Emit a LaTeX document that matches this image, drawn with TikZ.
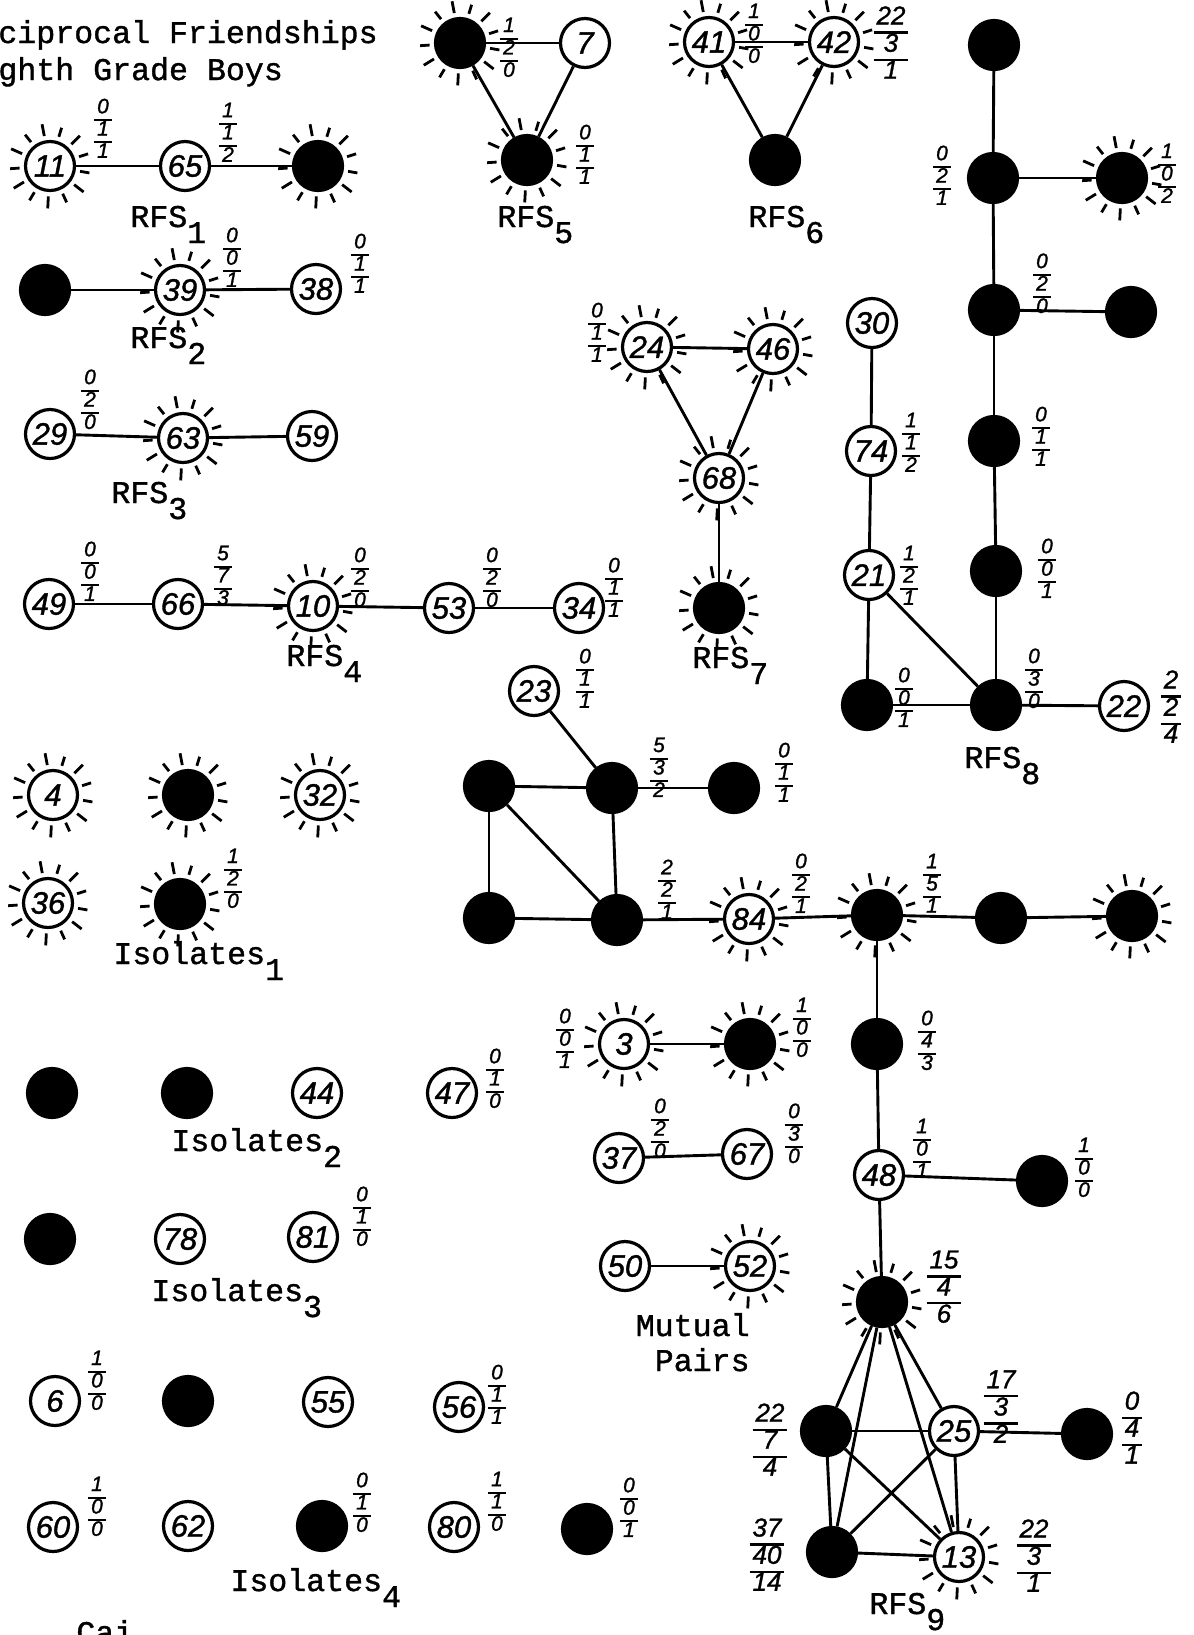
\documentclass[tikz,border=0pt]{standalone}
\usepackage{fontspec}
\newfontfamily\tw[FakeBold=1.2]{Liberation Mono}
\newfontfamily\hand[FakeBold=1.2]{Liberation Sans Italic}
\setlength\arrayrulewidth{1.1pt}
% three-level stacked score: top / middle / bottom
\newcommand\tfr[3]{{\setlength\tabcolsep{1.5pt}\renewcommand\arraystretch{0.74}\begin{tabular}{c}#1\\\hline #2\\\hline #3\end{tabular}}}
% lowered group index after RFS / Isolates
\newcommand\lowsub[1]{\raisebox{-8pt}{#1}}
% short radial strokes round each named node
\newcommand\sunrays[1]{\foreach \nn in {#1}{\foreach \a [count=\k] in {0,27.69,...,340}{\pgfmathsetmacro\len{mod(\k,2)==0 ? 12 : 9.5}\draw[ray] (\nn) ++(\a+10:30.5) -- ++(\a+10:\len);}}}

\begin{document}
\begin{tikzpicture}[x=0.5pt,y=-0.5pt,
  wn/.style={circle,draw,line width=1.6pt,minimum size=24.5pt,inner sep=0pt,
             font=\hand\fontsize{15.5}{15.5}\selectfont},
  bn/.style={wn,fill=black},
  edge/.style={line width=1.45pt},
  ray/.style={line width=1.4pt},
  fr/.style={inner sep=0pt,font=\hand\fontsize{10.5}{12.5}\selectfont},
  frL/.style={inner sep=0pt,font=\hand\fontsize{13}{15.5}\selectfont},
  tt/.style={inner sep=0pt,anchor=base west,font=\tw\fontsize{15.8}{18}\selectfont}]
\useasboundingbox (0,0) rectangle (1194,1635);

% ---------------- title
\node[tt] (title1) at (-2,43) {ciprocal Friendships};
\node[tt] (title2) at (-2,80) {ghth Grade Boys};

% ---------------- RFS 1
\node[wn] (n11) at (50,166) {11};
\node[wn] (n65) at (185,166) {65};
\node[bn] (r1c) at (318,166) {};
\node[fr] (f11) at (103,131) {\tfr{0}{1}{1}};
\node[fr] (f65) at (228,135) {\tfr{1}{1}{2}};
\node[tt] (rfs1) at (130,227) {RFS\lowsub{1}};

% ---------------- RFS 2
\node[bn] (r2a) at (45,290) {};
\node[wn] (n39) at (180,290) {39};
\node[wn] (n38) at (316,289) {38};
\node[fr] (f39) at (232,260) {\tfr{0}{0}{1}};
\node[fr] (f38) at (360,266) {\tfr{0}{1}{1}};
\node[tt] (rfs2) at (130,348) {RFS\lowsub{2}};

% ---------------- RFS 3
\node[wn] (n29) at (50,434) {29};
\node[wn] (n63) at (183,438) {63};
\node[wn] (n59) at (312,436) {59};
\node[fr] (f29) at (90,402) {\tfr{0}{2}{0}};
\node[tt] (rfs3) at (111,503) {RFS\lowsub{3}};

% ---------------- RFS 4
\node[wn] (n49) at (49,604) {49};
\node[wn] (n66) at (178,604) {66};
\node[wn] (n10) at (313,606) {10};
\node[wn] (n53) at (449,608) {53};
\node[wn] (n34) at (579,608) {34};
\node[fr] (f49) at (90,574) {\tfr{0}{0}{1}};
\node[fr] (f66) at (223,578) {\tfr{5}{7}{3}};
\node[fr] (f10) at (360,580) {\tfr{0}{2}{0}};
\node[fr] (f53) at (492,580) {\tfr{0}{2}{0}};
\node[fr] (f34) at (614,590) {\tfr{0}{1}{1}};
\node[tt] (rfs4) at (286,666) {RFS\lowsub{4}};

% ---------------- RFS 5
\node[bn] (r5a) at (460,43) {};
\node[wn] (n7) at (585,43) {7};
\node[bn] (r5b) at (527,160) {};
\node[fr] (f5a) at (509,50) {\tfr{1}{2}{0}};
\node[fr] (f5b) at (585,157) {\tfr{0}{1}{1}};
\node[tt] (rfs5) at (497,227) {RFS\lowsub{5}};

% ---------------- RFS 6
\node[wn] (n41) at (709,42) {41};
\node[wn] (n42) at (834,42) {42};
\node[bn] (r6a) at (775,160) {};
\node[fr] (f41) at (754,36) {\tfr{1}{0}{0}};
\node[frL] (f42) at (891,46) {\tfr{22}{3}{1}};
\node[tt] (rfs6) at (748,227) {RFS\lowsub{6}};

% ---------------- RFS 7
\node[wn] (n24) at (647,347) {24};
\node[wn] (n46) at (773,349) {46};
\node[wn] (n68) at (719,478) {68};
\node[bn] (r7a) at (719,608) {};
\node[fr] (f24) at (597,335) {\tfr{0}{1}{1}};
\node[tt] (rfs7) at (692,668) {RFS\lowsub{7}};

% ---------------- RFS 8
\node[bn] (r8a) at (994,45) {};
\node[bn] (r8b) at (993,178) {};
\node[bn] (r8c) at (1122,178) {};
\node[bn] (r8d) at (994,310) {};
\node[bn] (r8e) at (1131,312) {};
\node[wn] (n30) at (872,323) {30};
\node[wn] (n74) at (871,451) {74};
\node[bn] (r8f) at (994,441) {};
\node[wn] (n21) at (869,575) {21};
\node[bn] (r8g) at (996,571) {};
\node[bn] (r8h) at (867,705) {};
\node[bn] (r8i) at (996,705) {};
\node[wn] (n22) at (1124,706) {22};
\node[fr] (f8b) at (942,178) {\tfr{0}{2}{1}};
\node[fr] (f8c) at (1167,176) {\tfr{1}{0}{2}};
\node[fr] (f8d) at (1042,286) {\tfr{0}{2}{0}};
\node[fr] (f74) at (911,445) {\tfr{1}{1}{2}};
\node[fr] (f8f) at (1041,439) {\tfr{0}{1}{1}};
\node[fr] (f21) at (909,578) {\tfr{1}{2}{1}};
\node[fr] (f8g) at (1047,571) {\tfr{0}{0}{1}};
\node[fr] (f8h) at (904,700) {\tfr{0}{0}{1}};
\node[fr] (f8i) at (1034,681) {\tfr{0}{3}{0}};
\node[frL] (f22) at (1171,710) {\tfr{2}{2}{4}};
\node[tt] (rfs8) at (964,768) {RFS\lowsub{8}};

% ---------------- RFS 9
\node[wn] (n23) at (534,691) {23};
\node[bn] (r9a) at (489,786) {};
\node[bn] (r9b) at (612,788) {};
\node[bn] (r9c) at (734,788) {};
\node[bn] (r9d) at (489,918) {};
\node[bn] (r9e) at (617,920) {};
\node[wn] (n84) at (749,919) {84};
\node[bn] (r9f) at (877,915) {};
\node[bn] (r9g) at (1001,918) {};
\node[bn] (r9h) at (1132,916) {};
\node[bn] (r9i) at (877,1044) {};
\node[wn] (n48) at (879,1175) {48};
\node[bn] (r9j) at (1042,1181) {};
\node[bn] (r9k) at (882,1302) {};
\node[bn] (r9l) at (826,1431) {};
\node[wn] (n25) at (954,1431) {25};
\node[bn] (r9m) at (1087,1434) {};
\node[bn] (r9n) at (832,1552) {};
\node[wn] (n13) at (959,1557) {13};
\node[fr] (f23) at (585,681) {\tfr{0}{1}{1}};
\node[fr] (f9b) at (659,770) {\tfr{5}{3}{2}};
\node[fr] (f9c) at (784,775) {\tfr{0}{1}{1}};
\node[fr] (f9e) at (667,892) {\tfr{2}{2}{1}};
\node[fr] (f84) at (801,886) {\tfr{0}{2}{1}};
\node[fr] (f9f) at (932,886) {\tfr{1}{5}{1}};
\node[fr] (f9i) at (927,1043) {\tfr{0}{4}{3}};
\node[fr] (f48) at (922,1151) {\tfr{1}{0}{1}};
\node[fr] (f9j) at (1084,1170) {\tfr{1}{0}{0}};
\node[frL] (f9k) at (944,1290) {\tfr{15}{4}{6}};
\node[frL] (f9l) at (770,1443) {\tfr{22}{7}{4}};
\node[frL] (f25) at (1001,1410) {\tfr{17}{3}{2}};
\node[frL] (f9m) at (1132,1431) {\tfr{0}{4}{1}};
\node[frL] (f9n) at (767,1558) {\tfr{37}{40}{14}};
\node[frL] (f13) at (1034,1559) {\tfr{22}{3}{1}};
\node[tt] (rfs9) at (869,1614) {RFS\lowsub{9}};

% ---------------- mutual pairs
\node[wn] (n3) at (624,1044) {3};
\node[bn] (p3b) at (750,1044) {};
\node[fr] (f3) at (565,1041) {\tfr{0}{0}{1}};
\node[fr] (fp3b) at (802,1030) {\tfr{1}{0}{0}};
\node[wn] (n37) at (619,1158) {37};
\node[wn] (n67) at (747,1154) {67};
\node[fr] (f37) at (660,1131) {\tfr{0}{2}{0}};
\node[fr] (f67) at (794,1136) {\tfr{0}{3}{0}};
\node[wn] (n50) at (625,1266) {50};
\node[wn] (n52) at (750,1266) {52};
\node[tt,anchor=base east] (mut1) at (750,1336) {Mutual};
\node[tt,anchor=base east] (mut2) at (750,1371) {Pairs};

% ---------------- isolates
\node[wn] (n4) at (53,795) {4};
\node[bn] (i1b) at (188,795) {};
\node[wn] (n32) at (320,795) {32};
\node[wn] (n36) at (48,903) {36};
\node[bn] (i1e) at (180,904) {};
\node[fr] (fi1e) at (233,881) {\tfr{1}{2}{0}};
\node[tt] (iso1) at (113,964) {Isolates\lowsub{1}};

\node[bn] (i2a) at (52,1093) {};
\node[bn] (i2b) at (187,1093) {};
\node[wn] (n44) at (317,1093) {44};
\node[wn] (n47) at (452,1093) {47};
\node[fr] (f47) at (495,1081) {\tfr{0}{1}{0}};
\node[tt] (iso2) at (171,1151) {Isolates\lowsub{2}};

\node[bn] (i3a) at (50,1239) {};
\node[wn] (n78) at (180,1239) {78};
\node[wn] (n81) at (313,1237) {81};
\node[fr] (f81) at (362,1219) {\tfr{0}{1}{0}};
\node[tt] (iso3) at (151,1301) {Isolates\lowsub{3}};

\node[wn] (n6) at (55,1401) {6};
\node[bn] (i4b) at (188,1401) {};
\node[wn] (n55) at (328,1402) {55};
\node[wn] (n56) at (459,1407) {56};
\node[fr] (f6) at (97,1383) {\tfr{1}{0}{0}};
\node[fr] (f56) at (497,1397) {\tfr{0}{1}{1}};
\node[wn] (n60) at (53,1527) {60};
\node[wn] (n62) at (188,1526) {62};
\node[bn] (i4g) at (322,1526) {};
\node[wn] (n80) at (454,1527) {80};
\node[bn] (i4i) at (587,1529) {};
\node[fr] (f60) at (97,1509) {\tfr{1}{0}{0}};
\node[fr] (fi4g) at (362,1505) {\tfr{0}{1}{0}};
\node[fr] (f80) at (497,1504) {\tfr{1}{1}{0}};
\node[fr] (fi4i) at (629,1510) {\tfr{0}{0}{1}};
\node[tt] (iso4) at (230,1591) {Isolates\lowsub{4}};
\node[tt] (cut) at (76,1643) {Cai};

% ---------------- connectors
\foreach \u/\v in {n11/n65, n65/r1c, r2a/n39, n39/n38, n29/n63, n63/n59,
  n49/n66, n66/n10, n10/n53, n53/n34,
  r5a/n7, r5a/r5b, n7/r5b, n41/n42, n41/r6a, n42/r6a,
  n24/n46, n24/n68, n46/n68, n68/r7a,
  r8a/r8b, r8b/r8c, r8b/r8d, r8d/r8e, r8d/r8f, r8f/r8g, r8g/r8i,
  n30/n74, n74/n21, n21/r8h, n21/r8i, r8h/r8i, r8i/n22,
  n23/r9b, r9a/r9b, r9b/r9c, r9a/r9d, r9a/r9e, r9b/r9e, r9d/r9e,
  r9e/n84, n84/r9f, r9f/r9g, r9g/r9h, r9f/r9i, r9i/n48, n48/r9j, n48/r9k,
  r9k/r9l, r9k/n25, r9k/r9n, r9k/n13, r9l/n25, r9l/r9n, r9l/n13,
  n25/r9n, n25/n13, r9n/n13, n25/r9m,
  n3/p3b, n37/n67, n50/n52}
  \draw[edge] (\u) -- (\v);

% ---------------- rays
\sunrays{n11, r1c, n39, n63, n10, r5a, r5b, n41, n42, n24, n46, n68, r7a,
  r8c, n84, r9f, r9h, r9k, n13, n3, p3b, n52, n4, i1b, n32, n36, i1e}
\end{tikzpicture}
\end{document}
